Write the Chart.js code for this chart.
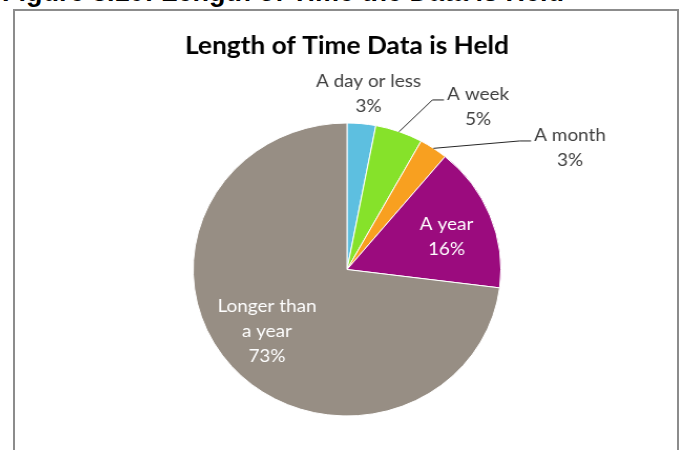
<!DOCTYPE html>
<html>
<head>
<meta charset="utf-8">
<script src="https://cdn.jsdelivr.net/npm/chart.js@4/dist/chart.umd.min.js"></script>
<style>
  html, body { margin: 0; padding: 0; background: #fff; overflow: hidden; }
  body { width: 686px; height: 450px; position: relative; }
  #caption {
    position: absolute; left: 2px; top: -21px;
    font: bold 27px "Liberation Sans", Arial, sans-serif; line-height: 27px;
    color: #000; white-space: nowrap;
  }
  #frame {
    position: absolute; left: 13px; top: 9px; width: 666px; height: 470px;
    border: 2px solid #8c8c8c; box-sizing: border-box;
  }
  /* the chart is drawn a little wide, so stretch the canvas sideways about the pie centre */
  #wrap {
    position: absolute; left: 0; top: 0; width: 686px; height: 450px;
    transform: scaleX(1.05); transform-origin: 347px 0;
  }
</style>
</head>
<body>
<div id="caption">Figure 8.10: Length of Time the Data is Held</div>
<div id="frame"></div>
<div id="wrap"><canvas id="pie"></canvas></div>
<script>
"use strict";

const categories = ["A day or less", "A week", "A month", "A year", "Longer than a year"];
const shares = [3, 5, 3, 16, 73];
// how each category name is broken over lines in its label
const nameLines = [["A day or less"], ["A week"], ["A month"], ["A year"], ["Longer than", "a year"]];

const sliceColors = ["#5dbfe0", "#86e22a", "#f8a020", "#9b0b7e", "#978e84"];

// label block centres, as fractions of the outer radius from the pie centre
const labelSpots = [
    { dx: 0.14,  dy: -1.20, color: "#404040" },
    { dx: 0.852, dy: -1.113, color: "#404040", leader: true },
    { dx: 1.45,  dy: -0.833, color: "#404040", leader: true },
    { dx: 0.647, dy: -0.225, color: "#ffffff" },
    { dx: -0.52, dy: 0.42,   color: "#ffffff" }
];
const LABEL_FONT = "18px Lato, 'Open Sans', sans-serif";
const LINE_GAP = 25;

const sliceLabels = {
    id: "sliceLabels",
    afterDatasetsDraw(chart) {
        const ctx = chart.ctx;
        const meta = chart.getDatasetMeta(0);
        ctx.save();
        ctx.font = LABEL_FONT;
        ctx.textAlign = "center";
        ctx.textBaseline = "middle";
        meta.data.forEach((arc, i) => {
            const p = arc.getProps(["x", "y", "startAngle", "endAngle", "outerRadius"], true);
            const spot = labelSpots[i];
            const cx = p.x + spot.dx * p.outerRadius;
            const cy = p.y + spot.dy * p.outerRadius;
            const lines = [...nameLines[i], shares[i] + "%"];
            const top = cy - (lines.length - 1) * LINE_GAP / 2;

            ctx.fillStyle = spot.color;
            lines.forEach((t, k) => ctx.fillText(t, cx, top + k * LINE_GAP));

            if (spot.leader) {
                const mid = (p.startAngle + p.endAngle) / 2;
                const ax = p.x + Math.cos(mid) * p.outerRadius;
                const ay = p.y + Math.sin(mid) * p.outerRadius;
                const left = cx - ctx.measureText(lines[0]).width / 2;
                const ly = top + 6;
                ctx.beginPath();
                ctx.moveTo(ax, ay);
                ctx.lineTo(left - 14, ly);
                ctx.lineTo(left - 3, ly);
                ctx.strokeStyle = "#262626";
                ctx.lineWidth = 1;
                ctx.stroke();
            }
        });
        ctx.restore();
    }
};

new Chart(document.getElementById("pie"), {
    type: "pie",
    data: {
        labels: categories,
        datasets: [{
            data: shares,
            backgroundColor: sliceColors,
            borderColor: "#ffffff",
            borderWidth: 1
        }]
    },
    options: {
        responsive: true,
        maintainAspectRatio: false,
        animation: false,
        layout: { padding: { left: 58, right: 50, top: 0, bottom: 33.5 } },
        plugins: {
            legend: { display: false },
            tooltip: { enabled: false },
            title: {
                display: true,
                text: "Length of Time Data is Held",
                color: "#000000",
                font: { family: "Lato, 'Open Sans', sans-serif", size: 25, weight: "bold", lineHeight: 1.2 },
                padding: { top: 31, bottom: 61.5 }
            }
        }
    },
    plugins: [sliceLabels]
});
</script>
</body>
</html>
